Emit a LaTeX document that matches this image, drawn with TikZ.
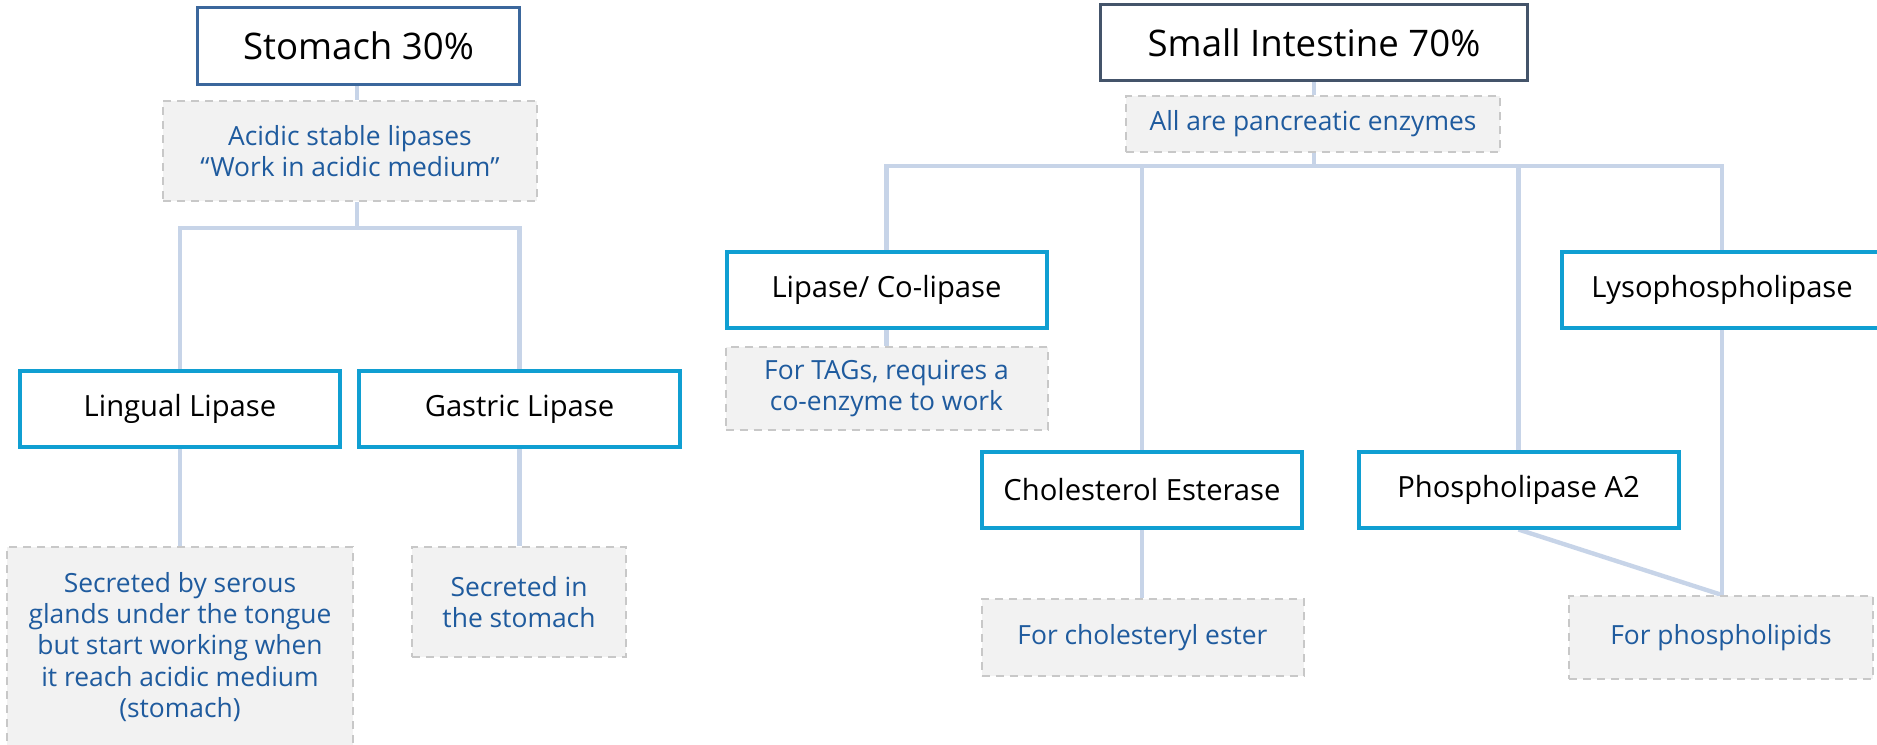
\documentclass[tikz,border=0pt]{standalone}
\usepackage{fontspec}
\setmainfont{Open Sans}
\usetikzlibrary{backgrounds}
\definecolor{stomachc}{HTML}{3B679C}
\definecolor{intestc}{HTML}{44546A}
\definecolor{enzc}{HTML}{109FD2}
\definecolor{linkc}{HTML}{C7D4E8}
\definecolor{notec}{HTML}{1F5B9E}
\definecolor{dashc}{HTML}{C8C8C8}
\definecolor{notefill}{HTML}{F2F2F2}
\tikzset{
  titlebox/.style={draw, line width=1.6pt, fill=white, inner sep=0pt, font=\fontsize{18.3pt}{22pt}\selectfont, text=black},
  enzbox/.style={draw=enzc, line width=2pt, fill=white, inner sep=0pt, font=\fontsize{14.6pt}{17pt}\selectfont, text=black},
  notebox/.style={draw=dashc, dash pattern=on 4pt off 3pt, line width=1pt, fill=notefill, inner sep=0pt, align=center, text=notec, font=\fontsize{13.2pt}{15.6pt}\selectfont},
  link/.style={draw=linkc, line width=2.2pt}
}
\begin{document}
\begin{tikzpicture}[x=0.5pt,y=-0.5pt]
\useasboundingbox (0,0) rectangle (1877,744);
% left tree
\node[titlebox, draw=stomachc, minimum width=161pt, minimum height=38.5pt] (stomach) at (358.5,46) {Stomach 30\%};
\node[notebox, minimum width=187pt, minimum height=50pt] (acid) at (350,151) {Acidic stable lipases\\“Work in acidic medium”};
\node[enzbox, minimum width=160pt, minimum height=38pt] (lingual) at (180,409) {Lingual Lipase};
\node[enzbox, minimum width=160.5pt, minimum height=38pt] (gastric) at (519.5,409) {Gastric Lipase};
\node[notebox, minimum width=173pt, minimum height=100pt] (lingnote) at (180,647) {Secreted by serous\\glands under the tongue\\but start working when\\it reach acidic medium\\(stomach)};
\node[notebox, minimum width=107pt, minimum height=55pt] (gasnote) at (519,602) {Secreted in\\the stomach};
% right tree
\node[titlebox, draw=intestc, minimum width=213.5pt, minimum height=38pt] (intest) at (1314,42.5) {Small Intestine 70\%};
\node[notebox, minimum width=187pt, minimum height=28pt] (panc) at (1313,124) {All are pancreatic enzymes};
\node[enzbox, minimum width=160pt, minimum height=38pt] (lipase) at (886.5,289.5) {Lipase/ Co-lipase};
\node[enzbox, minimum width=160pt, minimum height=38pt] (lyso) at (1722,289.5) {Lysophospholipase};
\node[notebox, minimum width=161pt, minimum height=41.5pt] (tag) at (886.5,388.5) {For TAGs, requires a\\co-enzyme to work};
\node[enzbox, minimum width=160pt, minimum height=38pt] (chol) at (1142,489.5) {Cholesterol Esterase};
\node[enzbox, minimum width=160pt, minimum height=38pt] (pla) at (1518.5,489.5) {Phospholipase A2};
\node[notebox, minimum width=161pt, minimum height=38.5pt] (cholnote) at (1142.5,637.5) {For cholesteryl ester};
\node[notebox, minimum width=152pt, minimum height=41.5pt] (phosnote) at (1721,637.5) {For phospholipids};
\coordinate (sbus) at (357,228);
\coordinate (ibus) at (1314,166);
\begin{scope}[on background layer]
\draw[link] (stomach.south -| sbus) -- (acid.north -| sbus);
\draw[link] (acid.south -| sbus) -- (sbus);
\draw[link] (lingual.north) |- (sbus) -| (gastric.north);
\draw[link] (lingual.south) -- (lingnote.north);
\draw[link] (gastric.south) -- (gasnote.north -| gastric.south);
\draw[link] (intest.south) -- (panc.north -| intest.south);
\draw[link] (panc.south -| ibus) -- (ibus);
\draw[link] (lipase.north) |- (ibus) -| (lyso.north);
\draw[link] (chol.north) -- (chol.north |- ibus);
\draw[link] (pla.north) -- (pla.north |- ibus);
\draw[link] (lipase.south) -- (tag.north -| lipase.south);
\draw[link] (chol.south) -- (cholnote.north -| chol.south);
\draw[link] (lyso.south) -- (phosnote.north -| lyso.south);
\draw[link] (pla.south) -- (phosnote.north -| lyso.south);
\end{scope}
\end{tikzpicture}
\end{document}
